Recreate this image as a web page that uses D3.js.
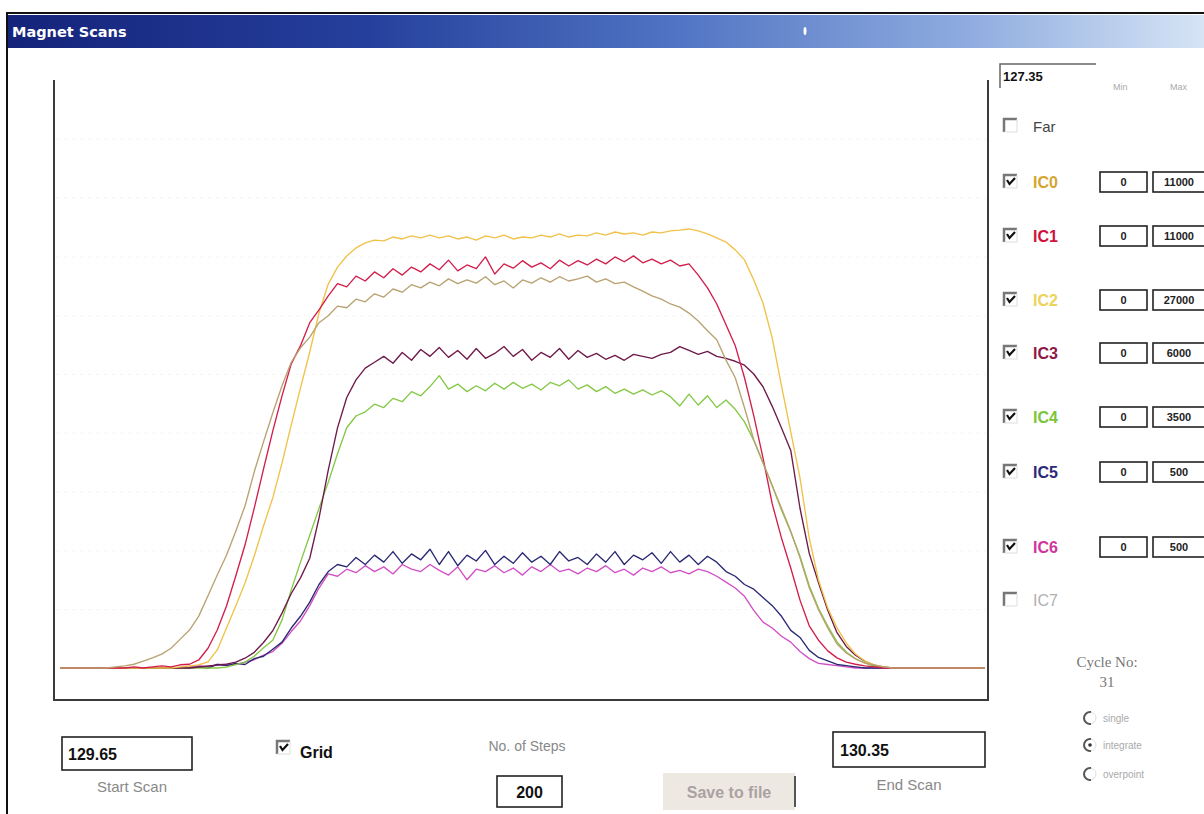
<!DOCTYPE html>
<html>
<head>
<meta charset="utf-8">
<script src="https://cdn.jsdelivr.net/npm/d3@7"></script>
<style>
  body { margin: 0; background: #fff; }
  svg { display: block; font-family: "Liberation Sans", Arial, sans-serif; }
</style>
</head>
<body>
<svg id="chart" width="1204" height="814"></svg>
<script>
// scan settings shown in the window
const startScan = 129.65;
const endScan = 130.35;
const noOfSteps = 200;
const cycleNo = 31;
const farValue = "127.35";

const channels = ["IC0", "IC1", "IC2", "IC3", "IC4", "IC5", "IC6", "IC7"];
const channelOn = [true, true, true, true, true, true, true, false];
const channelMin = [0, 0, 0, 0, 0, 0, 0];
const channelMax = [11000, 11000, 27000, 6000, 3500, 500, 500];
const labelColors = ["#d4a630", "#d0123e", "#ecd35a", "#8e1848", "#7cc43c", "#2c2a78", "#d0359c", "#b0b0b0"];
const lineColors = ["#b9a271", "#d21e4c", "#f0c24a", "#6e1a4a", "#84c846", "#2a2a72", "#d24fc6"];

// counts per scan point (101 points from start to end scan)
const ic0 = [0,0,0,0,0,0,20,40,70,130,190,260,370,540,710,970,1350,1740,2110,2560,3030,3670,4230,4770,5280,5720,5990,6190,6460,6590,6770,6740,6900,6850,7000,6940,7090,7030,7170,7110,7220,7150,7280,7190,7260,7200,7320,7170,7240,7110,7260,7200,7300,7220,7320,7240,7280,7330,7220,7280,7190,7220,7130,7050,6960,6900,6810,6750,6640,6490,6310,6140,5760,5430,4870,4270,3840,3410,2990,2560,2060,1500,1090,750,450,280,170,90,60,20,0,0,0,0,0,0,0,0,0,0,0];
const ic1 = [0,0,0,0,0,0,0,0,20,0,20,40,20,60,70,150,370,710,1160,1720,2300,2990,3720,4430,5090,5690,6030,6460,6700,6960,7190,7130,7330,7240,7410,7300,7470,7350,7500,7410,7560,7450,7630,7430,7540,7470,7690,7370,7560,7480,7620,7500,7580,7470,7630,7520,7620,7540,7650,7560,7690,7600,7710,7580,7650,7560,7630,7520,7560,7350,7110,6810,6420,6030,5430,4720,3930,3070,2430,1870,1270,790,520,320,190,110,70,40,20,0,0,0,0,0,0,0,0,0,0,0,0];
const ic2 = [0,0,0,0,0,0,0,0,0,0,0,0,0,50,90,140,280,830,1840,2850,3900,5140,6520,7810,9410,11160,12860,14510,16300,17630,18410,18920,19290,19520,19650,19610,19790,19700,19840,19750,19880,19750,19840,19700,19790,19650,19840,19750,19880,19700,19790,19750,19880,19790,19930,19790,19880,19840,19980,19880,20020,19930,19980,19880,20020,19980,20070,20110,20160,20070,19930,19750,19560,19200,18740,17820,16760,15150,12950,10840,8730,5970,4040,2760,1840,1150,640,320,140,50,0,0,0,0,0,0,0,0,0,0,0];
const ic3 = [0,0,0,0,0,0,0,0,0,0,0,0,0,0,0,10,20,30,40,60,100,160,260,380,560,760,920,1120,1530,2020,2450,2760,2940,3060,3120,3180,3110,3220,3140,3250,3180,3270,3170,3240,3150,3260,3160,3210,3280,3180,3250,3140,3220,3170,3260,3150,3240,3170,3210,3150,3190,3140,3200,3180,3160,3200,3220,3280,3240,3200,3230,3180,3160,3130,3090,3000,2870,2670,2450,2220,1630,1170,870,590,360,220,130,70,30,10,0,0,0,0,0,0,0,0,0,0,0];
const ic4 = [0,0,0,0,0,0,0,0,0,0,0,0,0,0,0,0,0,0,5,20,35,70,120,165,285,465,630,790,950,1105,1275,1430,1500,1525,1570,1550,1605,1585,1645,1620,1675,1740,1660,1690,1645,1680,1650,1695,1660,1700,1665,1690,1655,1700,1680,1715,1660,1685,1645,1675,1635,1660,1630,1655,1625,1650,1615,1560,1630,1565,1620,1550,1595,1540,1465,1355,1220,1085,940,810,665,490,355,250,155,95,55,30,10,5,0,0,0,0,0,0,0,0,0,0,0];
const ic5 = [0,0,0,0,0,0,0,0,0,0,0,0,0,0,0,1,0,3,2,4,3,8,10,16,22,34,44,56,71,82,88,86,94,88,96,90,99,89,97,92,101,88,99,87,96,91,100,88,95,89,98,90,95,88,99,91,94,88,97,90,99,88,96,92,98,89,99,90,96,88,95,90,82,78,71,67,60,53,44,32,26,15,9,6,3,2,1,0,0,0,0,0,0,0,0,0,0,0,0,0,0];
const ic6 = [0,0,0,0,0,0,0,0,0,0,0,0,0,0,1,2,1,3,3,3,5,7,11,14,21,31,40,53,68,80,78,84,81,87,82,86,80,88,84,82,88,83,79,86,75,84,82,87,81,85,79,86,82,88,82,84,80,85,82,87,81,84,79,85,82,86,81,83,80,84,82,78,73,68,61,49,39,34,27,22,14,8,4,3,2,1,0,0,0,0,0,0,0,0,0,0,0,0,0,0,0];
const series = [ic0, ic1, ic2, ic3, ic4, ic5, ic6];

const svg = d3.select("#chart");

// window frame and title bar
const grad = svg.append("defs").append("linearGradient").attr("id", "titleGrad");
grad.selectAll("stop")
  .data([["0%", "#15237a"], ["30%", "#25409c"], ["55%", "#4f72c2"], ["80%", "#8eabdf"], ["100%", "#d6e4f5"]])
  .enter().append("stop")
  .attr("offset", (d) => d[0])
  .attr("stop-color", (d) => d[1]);

svg.append("rect").attr("x", 8).attr("y", 15).attr("width", 1196).attr("height", 33).attr("fill", "url(#titleGrad)");
svg.append("text").attr("x", 12).attr("y", 37)
  .style("font-family", "DejaVu Sans, sans-serif").style("font-weight", "bold").style("font-size", "14.5px")
  .attr("fill", "#fff").text("Magnet Scans");
svg.append("ellipse").attr("cx", 805).attr("cy", 31).attr("rx", 1.5).attr("ry", 4).attr("fill", "#fff");
svg.append("path").attr("d", "M7,814V13H1204").attr("fill", "none").attr("stroke", "#111").attr("stroke-width", 2);

// plot area
const x = d3.scaleLinear().domain([startScan, endScan]).range([60, 985]);
const scanPos = d3.range(ic0.length).map((i) => startScan + (i * (endScan - startScan)) / (ic0.length - 1));

// grid is switched on but nearly invisible on screen
const gridScale = d3.scaleLinear().domain([0, 10]).range([668, 80]);
const grid = svg.append("g").attr("transform", "translate(56,0)")
  .call(d3.axisLeft(gridScale).tickValues(d3.range(1, 10)).tickSize(-930).tickFormat(""));
grid.select(".domain").remove();
grid.selectAll(".tick line").attr("stroke", "#f3f3f3").attr("stroke-dasharray", "3,5");

svg.append("path").attr("d", "M54,80V700H988V80").attr("fill", "none").attr("stroke", "#3a3a3a").attr("stroke-width", 2);

const drawOrder = [6, 5, 4, 3, 2, 1, 0];
drawOrder.forEach((c) => {
  const y = d3.scaleLinear().domain([channelMin[c], channelMax[c]]).range([668, 80]);
  const line = d3.line().x((d, i) => x(scanPos[i])).y((d) => y(d));
  svg.append("path").datum(series[c])
    .attr("d", line)
    .attr("fill", "none")
    .attr("stroke", lineColors[c])
    .attr("stroke-width", 1.35)
    .attr("stroke-linejoin", "round");
});

// classic controls
function checkbox(px, py, checked) {
  const g = svg.append("g");
  g.append("rect").attr("x", px).attr("y", py).attr("width", 13).attr("height", 13).attr("fill", "#fff");
  g.append("path").attr("d", `M${px},${py + 13}V${py}H${px + 13}`).attr("fill", "none").attr("stroke", "#777").attr("stroke-width", 2.5);
  g.append("path").attr("d", `M${px + 13},${py}V${py + 13}H${px}`).attr("fill", "none").attr("stroke", "#ddd").attr("stroke-width", 1);
  if (checked) {
    g.append("path").attr("d", `M${px + 3},${py + 5}L${px + 5.5},${py + 9}L${px + 11},${py + 3}`)
      .attr("fill", "none").attr("stroke", "#111").attr("stroke-width", 2.2);
  }
}

function box(px, py, w, h) {
  svg.append("rect").attr("x", px).attr("y", py).attr("width", w).attr("height", h)
    .attr("fill", "#fff").attr("stroke", "#222").attr("stroke-width", 1.6);
}

// right panel
svg.append("path").attr("d", "M1000,88V64H1096").attr("fill", "none").attr("stroke", "#666").attr("stroke-width", 1.5);
svg.append("text").attr("x", 1003).attr("y", 81).style("font-weight", "bold").style("font-size", "13px").attr("fill", "#111").text(farValue);
svg.append("text").attr("x", 1113).attr("y", 90).style("font-size", "9px").attr("fill", "#aaa").text("Min");
svg.append("text").attr("x", 1170).attr("y", 90).style("font-size", "9px").attr("fill", "#aaa").text("Max");

checkbox(1004, 119, false);
svg.append("text").attr("x", 1033).attr("y", 132).style("font-size", "15px").attr("fill", "#444").text("Far");

const rowY = [182, 236, 300, 353, 417, 472, 547, 600];
channels.forEach((name, c) => {
  const yc = rowY[c];
  checkbox(1004, yc - 7, channelOn[c]);
  svg.append("text").attr("x", 1033).attr("y", yc + 6)
    .style("font-size", "16px").style("font-weight", channelOn[c] ? "bold" : "normal")
    .attr("fill", labelColors[c]).text(name);
  if (c < channelMax.length) {
    box(1100, yc - 10, 47, 20);
    box(1153, yc - 10, 60, 20);
    svg.append("text").attr("x", 1123.5).attr("y", yc + 4).attr("text-anchor", "middle")
      .style("font-size", "11px").style("font-weight", "bold").attr("fill", "#222").text(channelMin[c]);
    svg.append("text").attr("x", 1179).attr("y", yc + 4).attr("text-anchor", "middle")
      .style("font-size", "11px").style("font-weight", "bold").attr("fill", "#222").text(channelMax[c]);
  }
});

svg.append("text").attr("x", 1107).attr("y", 667).attr("text-anchor", "middle")
  .style("font-family", "Liberation Serif, serif").style("font-size", "15px").attr("fill", "#777").text("Cycle No:");
svg.append("text").attr("x", 1107).attr("y", 687).attr("text-anchor", "middle")
  .style("font-family", "Liberation Serif, serif").style("font-size", "15px").attr("fill", "#777").text(cycleNo);

const radioModes = ["single", "integrate", "overpoint"];
const radioY = [718, 745, 774];
radioModes.forEach((m, i) => {
  const cy = radioY[i];
  svg.append("circle").attr("cx", 1090).attr("cy", cy).attr("r", 6).attr("fill", "#fff").attr("stroke", "#ddd");
  svg.append("path").attr("d", d3.arc()({ innerRadius: 5, outerRadius: 7, startAngle: -Math.PI * 1.05, endAngle: Math.PI * 0.05 }))
    .attr("transform", `translate(1090,${cy})`).attr("fill", "#555");
  if (m === "integrate") svg.append("circle").attr("cx", 1090).attr("cy", cy).attr("r", 1.8).attr("fill", "#333");
  svg.append("text").attr("x", 1103).attr("y", cy + 4).style("font-size", "10px").attr("fill", "#aaa").text(m);
});

// bottom controls
box(62, 737, 130, 33);
svg.append("text").attr("x", 68).attr("y", 760).style("font-weight", "bold").style("font-size", "16px").attr("fill", "#111").text(startScan.toFixed(2));
svg.append("text").attr("x", 132).attr("y", 792).attr("text-anchor", "middle").style("font-size", "15px").attr("fill", "#888").text("Start Scan");

checkbox(277, 741, true);
svg.append("text").attr("x", 300).attr("y", 758).style("font-weight", "bold").style("font-size", "16px").attr("fill", "#111").text("Grid");

svg.append("text").attr("x", 527).attr("y", 751).attr("text-anchor", "middle").style("font-size", "14px").attr("fill", "#888").text("No. of Steps");
box(497, 776, 65, 31);
svg.append("text").attr("x", 529.5).attr("y", 798).attr("text-anchor", "middle").style("font-weight", "bold").style("font-size", "16px").attr("fill", "#111").text(noOfSteps);

svg.append("rect").attr("x", 663).attr("y", 773).attr("width", 132).attr("height", 37).attr("fill", "#eee8e2");
svg.append("line").attr("x1", 795).attr("x2", 795).attr("y1", 776).attr("y2", 807).attr("stroke", "#555").attr("stroke-width", 2);
svg.append("text").attr("x", 729).attr("y", 798).attr("text-anchor", "middle").style("font-size", "16px").style("font-weight", "bold").attr("fill", "#aaa2a2").text("Save to file");

box(833, 732, 152, 35);
svg.append("text").attr("x", 840).attr("y", 756).style("font-weight", "bold").style("font-size", "16px").attr("fill", "#111").text(endScan.toFixed(2));
svg.append("text").attr("x", 909).attr("y", 790).attr("text-anchor", "middle").style("font-size", "15px").attr("fill", "#888").text("End Scan");
</script>
</body>
</html>
